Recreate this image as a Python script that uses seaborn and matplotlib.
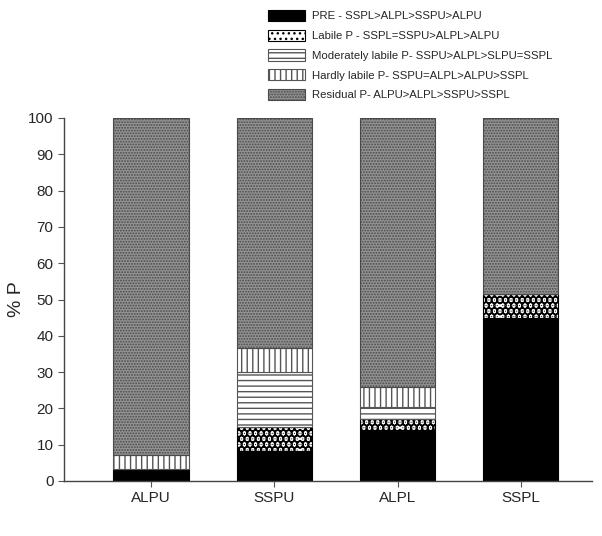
import numpy as np
import pandas as pd
import matplotlib.pyplot as plt
import seaborn as sns
from matplotlib.patches import Patch

sites = ["ALPU", "SSPU", "ALPL", "SSPL"]

pre = [3.3, 8.3, 14.1, 45.0]
labile = [0.0, 6.5, 2.9, 6.6]
moderately = [0.0, 15.1, 3.3, 0.0]
hardly = [3.8, 6.8, 5.5, 0.0]
residual = [92.9, 63.3, 74.2, 48.4]

labels = [
    "PRE - SSPL>ALPL>SSPU>ALPU",
    "Labile P - SSPL=SSPU>ALPL>ALPU",
    "Moderately labile P- SSPU>ALPL>SLPU=SSPL",
    "Hardly labile P- SSPU=ALPL>ALPU>SSPL",
    "Residual P- ALPU>ALPL>SSPU>SSPL",
]

sns.set_style("ticks")
plt.rcParams["font.family"] = ["Liberation Sans", "DejaVu Sans"]
plt.rcParams["hatch.linewidth"] = 1.0

df = pd.DataFrame({"site": sites, "pre": pre, "labile": labile,
                   "moderately": moderately, "hardly": hardly, "residual": residual})

fig = plt.figure(figsize=(6.02, 5.36), dpi=100)
ax = fig.add_axes([64 / 602, 55 / 536, 528 / 602, 363 / 536])

# face, hatch, hatch colour, hatch width
styles = [
    ("black", "", "black", 1.0),
    ("white", "...", "black", 5.0),
    ("white", "---", "#555555", 1.0),
    ("white", "|||", "#555555", 1.0),
    ("#939393", "......", "#4a4a4a", 0.9),
]

cols = ["pre", "labile", "moderately", "hardly", "residual"]
bottom = np.zeros(len(sites))
handles = []
for col, (fc, h, hc, hw) in zip(cols, styles):
    n0 = len(ax.patches)
    sns.barplot(data=df, x="site", y=col, bottom=bottom, color=fc, width=0.61,
                saturation=1, ax=ax, errorbar=None)
    for p in ax.patches[n0:]:
        p.set_facecolor(fc)
        p.set_hatch(h)
        p.set_edgecolor(hc)
        p.set_linewidth(0.8)
        if hasattr(p, "set_hatch_linewidth"):
            p.set_hatch_linewidth(hw)
    bottom = bottom + df[col].values
    hp = Patch(facecolor=fc, edgecolor=hc, hatch=h, linewidth=0.8)
    if hasattr(hp, "set_hatch_linewidth"):
        hp.set_hatch_linewidth(hw)
    handles.append(hp)

ax.set_xlim(-0.705, 3.577)
ax.set_ylim(0, 100)
ax.set_yticks(range(0, 101, 10))
ax.set_xlabel("")
ax.set_ylabel("% P", fontsize=14, labelpad=2)
ax.tick_params(labelsize=11, direction="out", length=4, color="#555555")
for s in ["top", "right"]:
    ax.spines[s].set_visible(False)
for s in ["left", "bottom"]:
    ax.spines[s].set_color("#444444")
    ax.spines[s].set_linewidth(1)

leg = fig.legend(handles, labels, loc="upper left", bbox_to_anchor=(258 / 602, 1.0),
                 frameon=False, fontsize=8.2, handlelength=3.3, handleheight=1.15,
                 labelspacing=0.72, handletextpad=0.55, borderaxespad=0.47)

fig.savefig("out.png", dpi=100)
